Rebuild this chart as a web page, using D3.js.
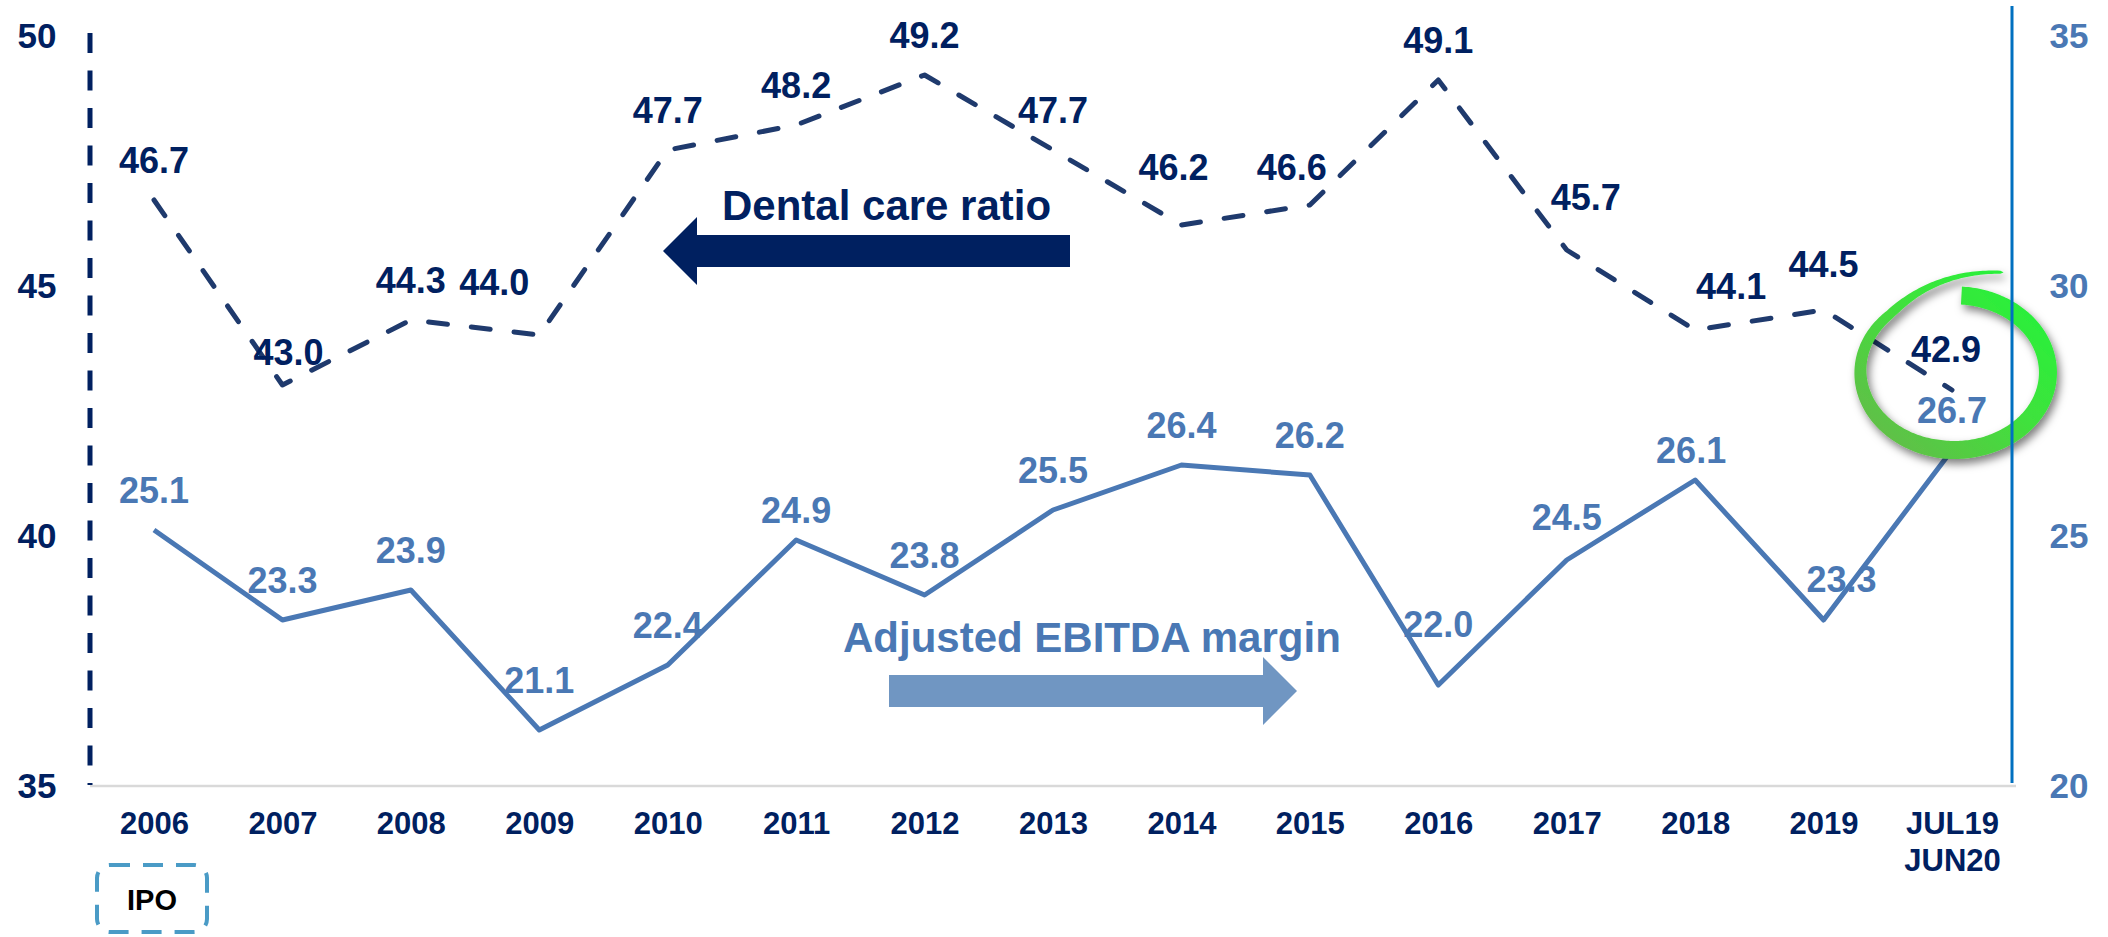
<!DOCTYPE html>
<html><head><meta charset="utf-8">
<script src="https://cdn.jsdelivr.net/npm/d3@7"></script>
<style>
body{margin:0;background:#fff;}
svg{display:block;font-family:Arial,"Liberation Sans",sans-serif;}
</style>
</head><body>
<svg id="c" width="2108" height="937"></svg>
<script>
// ---------------- DATA ----------------
const categories = ["2006","2007","2008","2009","2010","2011","2012","2013","2014","2015","2016","2017","2018","2019","JUL19\nJUN20"];
const dentalCareRatio = [46.7, 43.0, 44.3, 44.0, 47.7, 48.2, 49.2, 47.7, 46.2, 46.6, 49.1, 45.7, 44.1, 44.5, 42.9];
const ebitdaMargin    = [25.1, 23.3, 23.9, 21.1, 22.4, 24.9, 23.8, 25.5, 26.4, 26.2, 22.0, 24.5, 26.1, 23.3, 26.7];
const leftTicks  = [35, 40, 45, 50];
const rightTicks = [20, 25, 30, 35];
const seriesNames = ["Dental care ratio", "Adjusted EBITDA margin"];
const ipoLabel = "IPO";

// ---------------- LAYOUT ----------------
const NAVY = "#002060", DLINE = "#1f3a6d", STEEL = "#4a78b4", STEEL_ARROW = "#7096c2", AXBLUE = "#0070c0";
const svg = d3.select("#c");
const x  = d3.scalePoint().domain(categories).range([154, 1952]);
const yL = d3.scaleLinear().domain([35, 50]).range([785, 35]);
const yR = d3.scaleLinear().domain([20, 35]).range([785, 35]);

const defs = svg.append("defs");
const grad = defs.append("linearGradient").attr("id","ggrad").attr("x1","0.9").attr("y1","0.1").attr("x2","0.1").attr("y2","0.9");
grad.append("stop").attr("offset","0").attr("stop-color","#25f23a");
grad.append("stop").attr("offset","0.45").attr("stop-color","#3fe23c");
grad.append("stop").attr("offset","1").attr("stop-color","#62bd48");
const filt = defs.append("filter").attr("id","shadow").attr("x","-30%").attr("y","-30%").attr("width","160%").attr("height","160%");
filt.append("feDropShadow").attr("dx",3).attr("dy",5).attr("stdDeviation",4).attr("flood-color","#000").attr("flood-opacity",0.5);

// baseline
svg.append("line").attr("x1",90).attr("x2",2016).attr("y1",786).attr("y2",786)
  .attr("stroke","#d9d9d9").attr("stroke-width",2.5);

// left dashed axis line
svg.append("line").attr("x1",90).attr("x2",90).attr("y1",yL(50)-2).attr("y2",yL(35))
  .attr("stroke",NAVY).attr("stroke-width",5).attr("stroke-dasharray","20,17.5");

// arrows (annotations)
const dArrow = [[663,251],[697,217],[697,235],[1070,235],[1070,267],[697,267],[697,285]];
svg.append("path").attr("d", d3.line()(dArrow) + "Z").attr("fill", NAVY);
svg.append("text").attr("x",722).attr("y",220).attr("font-size",42).attr("font-weight","bold")
  .attr("fill",NAVY).text(seriesNames[0]);
const eArrow = [[889,675],[1263,675],[1263,657],[1297,691],[1263,725],[1263,707],[889,707]];
svg.append("path").attr("d", d3.line()(eArrow) + "Z").attr("fill", STEEL_ARROW);
svg.append("text").attr("x",843).attr("y",652).attr("font-size",42).attr("font-weight","bold")
  .attr("fill",STEEL).text(seriesNames[1]);

// lines
const lineL = d3.line().x((d,i)=>x(categories[i])).y(d=>yL(d));
const lineR = d3.line().x((d,i)=>x(categories[i])).y(d=>yR(d));
svg.append("path").datum(ebitdaMargin).attr("d",lineR).attr("fill","none")
  .attr("stroke",STEEL).attr("stroke-width",5).attr("stroke-linejoin","round");
svg.append("path").datum(dentalCareRatio).attr("d",lineL).attr("fill","none")
  .attr("stroke",DLINE).attr("stroke-width",5).attr("stroke-linecap","round")
  .attr("stroke-linejoin","round").attr("stroke-dasharray","19,24");

// value labels
const dShift = {1:[6,-20],3:[-45,-40],8:[-8,-45],9:[-18,-25],11:[19,-40],12:[36,-31],13:[0,-33],14:[-6,-28]};
const eShift = {3:[0,-37],5:[0,-17],10:[0,-48],11:[0,-30],12:[-4,-17],13:[18,-28]};
svg.append("g").selectAll("text").data(dentalCareRatio).join("text")
  .attr("x",(d,i)=>x(categories[i]) + (dShift[i]||[0,-27])[0])
  .attr("y",(d,i)=>yL(d) + (dShift[i]||[0,-27])[1])
  .attr("text-anchor","middle").attr("font-size",36).attr("font-weight","bold").attr("fill",NAVY)
  .text(d=>d.toFixed(1));
svg.append("g").selectAll("text").data(ebitdaMargin).join("text")
  .attr("x",(d,i)=>x(categories[i]) + (eShift[i]||[0,-27])[0])
  .attr("y",(d,i)=>yR(d) + (eShift[i]||[0,-27])[1])
  .attr("text-anchor","middle").attr("font-size",36).attr("font-weight","bold").attr("fill",STEEL)
  .text(d=>d.toFixed(1));

// green highlight ring around last point
(function(){
  const last = categories.length-1;
  const cx = x(categories[last]) + 3, cy = yL(dentalCareRatio[last]) - 18;
  const rx = 95, ry = 79;
  const t0 = -86, t1 = 292, N = 300;
  const sc = t => t < 225 ? 0.97 + 0.03*(t - t0)/(225 - t0) : 1.0 + 0.36*Math.pow((t-225)/(t1-225),1.5);
  const wd = t => {
    if (t < 100) return 18;
    if (t < 180) return 18 - 6*(t-100)/80;
    if (t < 235) return 12 - 3*(t-180)/55;
    return Math.max(1.5, 9 - 6*Math.pow((t-235)/(t1-235),0.8));
  };
  const P = t => { const r = t*Math.PI/180, s = sc(t); return [cx + rx*s*Math.cos(r), cy + ry*s*Math.sin(r)]; };
  const outer = [], inner = [];
  for (let k=0;k<=N;k++){
    const t = t0 + (t1-t0)*k/N;
    const p = P(t), a = P(t-0.5), b = P(t+0.5);
    let tx = b[0]-a[0], ty = b[1]-a[1]; const L = Math.hypot(tx,ty); tx/=L; ty/=L;
    const nx = ty, ny = -tx;
    const w = (k===N ? 0.4 : wd(t))/2;
    outer.push([p[0]+nx*w, p[1]+ny*w]);
    inner.push([p[0]-nx*w, p[1]-ny*w]);
  }
  const poly = outer.concat(inner.reverse());
  svg.append("path").attr("d", d3.line()(poly)+"Z").attr("fill","url(#ggrad)").attr("filter","url(#shadow)");
})();

// right axis line
svg.append("line").attr("x1",2012).attr("x2",2012).attr("y1",6).attr("y2",783)
  .attr("stroke",AXBLUE).attr("stroke-width",3);

// axis tick labels
const gL = svg.append("g").attr("transform","translate(90,0)")
  .call(d3.axisLeft(yL).tickValues(leftTicks).tickSize(0).tickFormat(d3.format("d")));
gL.select(".domain").remove();
gL.selectAll("text").attr("x",-53).attr("dy","0.36em").attr("text-anchor","middle")
  .attr("font-size",35).attr("font-weight","bold").attr("fill",NAVY).attr("font-family",null);

const gR = svg.append("g").attr("transform","translate(2012,0)")
  .call(d3.axisRight(yR).tickValues(rightTicks).tickSize(0).tickFormat(d3.format("d")));
gR.select(".domain").remove();
gR.selectAll("text").attr("x",57).attr("dy","0.36em").attr("text-anchor","middle")
  .attr("font-size",35).attr("font-weight","bold").attr("fill",STEEL).attr("font-family",null);

const gB = svg.append("g").attr("transform","translate(0,786)")
  .call(d3.axisBottom(x).tickSize(0));
gB.select(".domain").remove();
gB.selectAll("text").attr("y",48).attr("dy",0).attr("font-size",31).attr("font-weight","bold")
  .attr("fill",NAVY).attr("font-family",null)
  .each(function(d){
    const parts = d.split("\n"); const t = d3.select(this); t.text(null);
    parts.forEach((p,i)=>t.append("tspan").attr("x",0).attr("dy", i===0?0:37).text(p));
  });

// IPO box
svg.append("rect").attr("x",97).attr("y",865).attr("width",110).attr("height",67).attr("rx",13)
  .attr("fill","none").attr("stroke","#4a9bc6").attr("stroke-width",4).attr("stroke-dasharray","20,13");
svg.append("text").attr("x",152).attr("y",910).attr("text-anchor","middle").attr("font-size",29)
  .attr("font-weight","bold").attr("fill","#000").text(ipoLabel);
</script>
</body></html>
